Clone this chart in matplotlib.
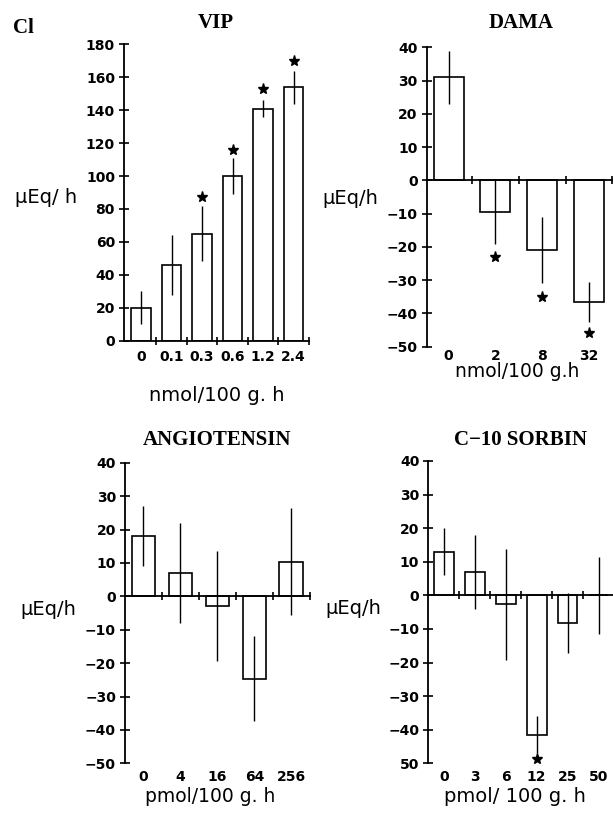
import numpy as np
import matplotlib.pyplot as plt

plt.rcParams['font.family'] = ['DejaVu Sans']

W, H = 613, 814

# VIP, nmol/100 g.h
vip_doses = ["0", "0.1", "0.3", "0.6", "1.2", "2.4"]
vip_mean = [20, 46, 65, 100, 141, 154]
vip_sem = [10, 18, 16.5, 11, 5, 10]
vip_star = [None, None, 87, 116, 153, 170]

# DAMA, nmol/100 g.h
dama_doses = ["0", "2", "8", "32"]
dama_mean = [31, -9.5, -21, -36.5]
dama_sem = [8, 9.5, 10, 6]
dama_star = [None, -23, -35, -46]

# Angiotensin, pmol/100 g.h
ang_doses = ["0", "4", "16", "64", "256"]
ang_mean = [18, 7, -2.8, -24.7, 10.4]
ang_sem = [9, 15, 16.5, 12.7, 16]
ang_star = [None, None, None, None, None]

# C-10 sorbin, pmol/100 g.h
sor_doses = ["0", "3", "6", "12", "25", "50"]
sor_mean = [13, 7, -2.7, -41.5, -8.2, 0]
sor_sem = [7, 11, 16.5, 5.5, 9, 11.5]
sor_star = [None, None, None, -48.8, None, None]

vip_yticks = [0, 20, 40, 60, 80, 100, 120, 140, 160, 180]
small_yticks = [-50, -40, -30, -20, -10, 0, 10, 20, 30, 40]
small_ylabels = ["\u221250", "\u221240", "\u221230", "\u221220", "\u221210", "0", "10", "20", "30", "40"]
sor_ylabels = ["50"] + small_ylabels[1:]

fig = plt.figure(figsize=(W / 100, H / 100), dpi=100)


def px_rect(left, top, right, bottom):
    return [left / W, 1 - bottom / H, (right - left) / W, (bottom - top) / H]


def draw_panel(rect, labels, mean, sem, star, ylim, yticks, yticklabels, xlim, lab_off):
    ax = fig.add_axes(rect)
    x = np.arange(len(labels))
    ax.bar(x, mean, width=0.64, color='white', edgecolor='black', linewidth=1.2, zorder=2)
    ax.errorbar(x, mean, yerr=sem, fmt='none', ecolor='black', elinewidth=1.0, capsize=0, zorder=3)
    for xi, s in zip(x, star):
        if s is not None:
            ax.plot(xi, s, marker='*', ms=8, color='black', clip_on=False, zorder=4)
    ax.set_xlim(*xlim)
    ax.set_ylim(*ylim)
    for side in ['top', 'right']:
        ax.spines[side].set_visible(False)
    ax.spines['bottom'].set_position(('data', 0))
    ax.spines['left'].set_linewidth(1.3)
    ax.spines['bottom'].set_linewidth(1.3)
    ax.set_yticks(yticks, yticklabels)
    ax.set_xticks(x + 0.5)
    ax.tick_params(axis='x', direction='inout', length=6, width=1.2, labelbottom=False)
    ax.tick_params(axis='y', direction='inout', length=7, width=1.2, pad=3, labelsize=10)
    for lab in ax.get_yticklabels():
        lab.set_fontweight('bold')
    for xi, lab in zip(x, labels):
        ax.annotate(lab, xy=(xi, 0), xycoords=('data', 'axes fraction'), xytext=(0, -lab_off),
                    textcoords='offset points', ha='center', va='top',
                    fontsize=10, fontweight='bold')
    return ax


draw_panel(px_rect(124, 44.3, 308.8, 340.7), vip_doses, vip_mean, vip_sem, vip_star,
           (0, 180), vip_yticks, [str(v) for v in vip_yticks], (-0.56, 5.5), 6.5)
draw_panel(px_rect(426.7, 47.3, 612.3, 346.7), dama_doses, dama_mean, dama_sem, dama_star,
           (-50, 40), small_yticks, small_ylabels, (-0.47, 3.5), 2)
draw_panel(px_rect(125, 462.7, 309.8, 763.3), ang_doses, ang_mean, ang_sem, ang_star,
           (-50, 40), small_yticks, small_ylabels, (-0.5, 4.5), 5)
draw_panel(px_rect(428.3, 461, 614, 763.3), sor_doses, sor_mean, sor_sem, sor_star,
           (-50, 40), small_yticks, sor_ylabels, (-0.5, 5.5), 5)


def ftext(xp, yp, s, **kw):
    fig.text(xp / W, 1 - yp / H, s, **kw)


serif = dict(family='Liberation Serif', fontweight='bold', ha='center', va='baseline', fontsize=15)
ftext(13, 33, "Cl", family='Liberation Serif', fontweight='bold', ha='left', va='baseline', fontsize=15)
ftext(216, 28.5, "VIP", **serif)
ftext(521, 28.5, "DAMA", **serif)
ftext(217, 445, "ANGIOTENSIN", **serif)
ftext(520, 445, "C\u221210 SORBIN", **serif)

sans = dict(family='DejaVu Sans', ha='center', va='baseline')
ftext(46, 203, "\u03bcEq/ h", fontsize=14, **sans)
ftext(350, 204, "\u03bcEq/h", fontsize=14, **sans)
ftext(48, 615, "\u03bcEq/h", fontsize=14, **sans)
ftext(353, 614, "\u03bcEq/h", fontsize=14, **sans)

ftext(217, 401.5, "nmol/100 g. h", fontsize=14, **sans)
ftext(517, 377, "nmol/100 g.h", fontsize=13.5, **sans)
ftext(210, 801.5, "pmol/100 g. h", fontsize=13.5, **sans)
ftext(515, 801.5, "pmol/ 100 g. h", fontsize=14, **sans)

fig.savefig("out.png", dpi=100)
